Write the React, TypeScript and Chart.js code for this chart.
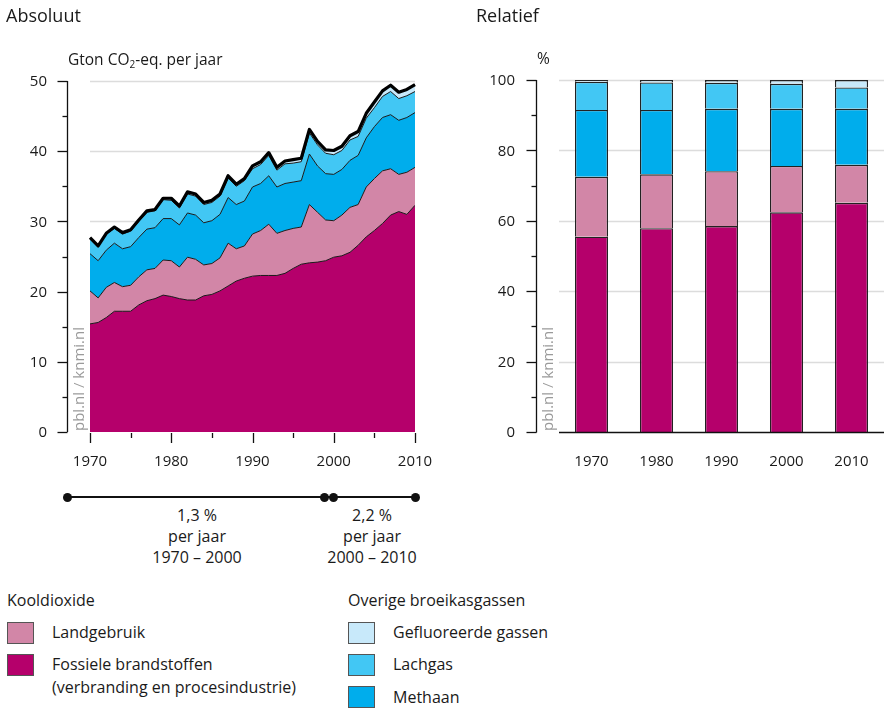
import React, { useEffect, useRef } from "react";
import { Chart, registerables } from "chart.js";
Chart.register(...registerables);

const FONT = '"Open Sans", "Noto Sans", sans-serif';

// ---- Absolute (Gton CO2-eq per year) ----
const years = [
  1970, 1971, 1972, 1973, 1974, 1975, 1976, 1977, 1978, 1979,
  1980, 1981, 1982, 1983, 1984, 1985, 1986, 1987, 1988, 1989,
  1990, 1991, 1992, 1993, 1994, 1995, 1996, 1997, 1998, 1999,
  2000, 2001, 2002, 2003, 2004, 2005, 2006, 2007, 2008, 2009, 2010,
];
const fossil = [
  15.4, 15.6, 16.3, 17.2, 17.2, 17.2, 18.1, 18.7, 19.0, 19.5,
  19.3, 19.0, 18.8, 18.8, 19.4, 19.6, 20.1, 20.8, 21.5, 21.9,
  22.2, 22.3, 22.3, 22.3, 22.6, 23.3, 23.9, 24.1, 24.2, 24.4,
  24.9, 25.1, 25.6, 26.6, 27.8, 28.7, 29.7, 30.9, 31.4, 31.0, 32.3,
];
const landUse = [
  4.7, 3.5, 4.3, 4.1, 3.5, 3.7, 4.0, 4.4, 4.3, 5.0,
  5.1, 4.5, 6.1, 5.8, 4.4, 4.4, 4.7, 6.1, 4.6, 4.6,
  6.0, 6.4, 7.3, 6.0, 6.1, 5.7, 5.3, 8.3, 7.1, 5.8,
  5.2, 5.8, 6.4, 5.8, 7.1, 7.4, 7.5, 6.6, 5.3, 6.0, 5.4,
];
const methane = [
  5.3, 5.3, 5.3, 5.6, 5.4, 5.5, 5.6, 5.8, 5.8, 5.9,
  6.0, 6.0, 6.3, 6.3, 6.0, 6.1, 6.2, 6.5, 6.3, 6.4,
  6.7, 6.7, 6.9, 6.6, 6.7, 6.6, 6.6, 7.2, 6.6, 6.6,
  6.6, 6.5, 6.7, 7.0, 7.0, 7.4, 7.6, 7.7, 7.7, 7.8, 7.8,
];
const nitrousOxide = [
  2.2, 2.0, 2.3, 2.1, 2.1, 2.2, 2.3, 2.4, 2.4, 2.7,
  2.6, 2.4, 2.7, 2.7, 2.6, 2.6, 2.6, 2.8, 2.6, 2.9,
  2.6, 2.7, 2.9, 2.4, 2.8, 2.7, 2.7, 3.0, 3.0, 2.9,
  2.8, 2.7, 2.9, 2.7, 2.8, 2.7, 3.0, 3.3, 3.1, 3.1, 3.0,
];
const fluorinated = [
  0.1, 0.1, 0.1, 0.2, 0.2, 0.2, 0.2, 0.2, 0.2, 0.2,
  0.3, 0.3, 0.3, 0.3, 0.3, 0.3, 0.3, 0.3, 0.3, 0.3,
  0.4, 0.4, 0.4, 0.4, 0.4, 0.5, 0.5, 0.5, 0.5, 0.5,
  0.6, 0.6, 0.6, 0.7, 0.7, 0.8, 0.8, 0.9, 0.9, 0.9, 1.0,
];
const absYTicks = [0, 10, 20, 30, 40, 50];
const absXTicks = [1970, 1980, 1990, 2000, 2010];

// ---- Relative (%) ----
const barYears = ["1970", "1980", "1990", "2000", "2010"];
const relFossil = [55.5, 57.9, 58.5, 62.4, 65.1];
const relLandUse = [17.0, 15.3, 15.6, 13.2, 10.8];
const relMethane = [19.0, 18.3, 17.7, 16.2, 15.9];
const relNitrousOxide = [8.0, 7.8, 7.4, 7.1, 6.1];
const relFluorinated = [0.5, 0.7, 0.8, 1.1, 2.1];
const relYTicks = [0, 20, 40, 60, 80, 100];

const C_FOSSIL = "#b5006b";
const C_LAND = "#d286a7";
const C_METHANE = "#00adec";
const C_N2O = "#42c7f4";
const C_FGAS = "#c8e9fa";

function pts(vals: number[]) {
  return years.map((y, i) => ({ x: y, y: vals[i] }));
}

function drawWatermark(ctx: CanvasRenderingContext2D, x: number, bottom: number) {
  ctx.save();
  ctx.translate(x, bottom - 1);
  ctx.rotate(-Math.PI / 2);
  ctx.fillStyle = "#9a9a9a";
  ctx.font = `15px ${FONT}`;
  ctx.textAlign = "left";
  ctx.textBaseline = "middle";
  ctx.fillText("pbl.nl / knmi.nl", 0, 0);
  ctx.restore();
}

function AbsChart() {
  const ref = useRef<HTMLCanvasElement>(null);
  useEffect(() => {
    const axisPlugin = {
      id: "absAxes",
      beforeDatasetsDraw(chart: any) {
        const { ctx, chartArea, scales } = chart;
        ctx.save();
        ctx.strokeStyle = "#dcdcdc";
        ctx.lineWidth = 1.5;
        absYTicks.forEach((v) => {
          if (v === 0) return;
          const y = Math.round(scales.y.getPixelForValue(v)) + 0.5;
          ctx.beginPath();
          ctx.moveTo(chartArea.left, y);
          ctx.lineTo(chartArea.right, y);
          ctx.stroke();
        });
        ctx.restore();
      },
      afterDatasetsDraw(chart: any) {
        const { ctx } = chart;
        const meta = chart.getDatasetMeta(4);
        ctx.save();
        ctx.strokeStyle = "#000";
        ctx.lineWidth = 3.2;
        ctx.lineJoin = "round";
        ctx.beginPath();
        meta.data.forEach((p: any, i: number) => {
          if (i === 0) ctx.moveTo(p.x, p.y);
          else ctx.lineTo(p.x, p.y);
        });
        ctx.stroke();
        ctx.restore();
      },
      afterDraw(chart: any) {
        const { ctx, chartArea, scales } = chart;
        const ax = 67.5;
        ctx.save();
        ctx.strokeStyle = "#111";
        ctx.lineWidth = 1.3;
        const y0 = scales.y.getPixelForValue(0);
        const y50 = scales.y.getPixelForValue(50);
        ctx.beginPath();
        ctx.moveTo(ax, y0);
        ctx.lineTo(ax, y50);
        ctx.stroke();
        for (let v = 0; v <= 50; v += 5) {
          const y = Math.round(scales.y.getPixelForValue(v)) + 0.5;
          const major = v % 10 === 0;
          ctx.beginPath();
          ctx.moveTo(ax - (major ? 10 : 5), y);
          ctx.lineTo(ax, y);
          ctx.stroke();
        }
        ctx.fillStyle = "#1a1a1a";
        ctx.font = `15px ${FONT}`;
        ctx.textAlign = "right";
        ctx.textBaseline = "middle";
        absYTicks.forEach((v) => {
          ctx.fillText(String(v), 47, scales.y.getPixelForValue(v) + 1);
        });
        for (let yr = 1970; yr <= 2010; yr += 5) {
          const x = Math.round(scales.x.getPixelForValue(yr)) + 0.5;
          const major = yr % 10 === 0;
          ctx.beginPath();
          ctx.moveTo(x, chartArea.bottom + 1);
          ctx.lineTo(x, chartArea.bottom + (major ? 11 : 6));
          ctx.stroke();
        }
        ctx.textAlign = "center";
        absXTicks.forEach((yr) => {
          ctx.fillText(String(yr), scales.x.getPixelForValue(yr), 462);
        });
        drawWatermark(ctx, 80, chartArea.bottom);
        ctx.restore();
      },
    };
    const border = "#1a1a1a";
    const chart = new Chart(ref.current as HTMLCanvasElement, {
      type: "line",
      data: {
        datasets: [
          { label: "Fossiele brandstoffen", data: pts(fossil), fill: "origin", backgroundColor: C_FOSSIL, borderColor: border, borderWidth: 1, pointRadius: 0, tension: 0 },
          { label: "Landgebruik", data: pts(landUse), fill: "-1", backgroundColor: C_LAND, borderColor: border, borderWidth: 1, pointRadius: 0, tension: 0 },
          { label: "Methaan", data: pts(methane), fill: "-1", backgroundColor: C_METHANE, borderColor: border, borderWidth: 1, pointRadius: 0, tension: 0 },
          { label: "Lachgas", data: pts(nitrousOxide), fill: "-1", backgroundColor: C_N2O, borderColor: border, borderWidth: 1, pointRadius: 0, tension: 0 },
          { label: "Gefluoreerde gassen", data: pts(fluorinated), fill: "-1", backgroundColor: C_FGAS, borderColor: border, borderWidth: 1, pointRadius: 0, tension: 0 },
        ],
      } as any,
      options: {
        animation: false,
        responsive: false,
        devicePixelRatio: 1,
        layout: { padding: { left: 90, right: 25, top: 81, bottom: 48 } },
        plugins: { legend: { display: false }, tooltip: { enabled: false } },
        scales: {
          x: { type: "linear", min: 1970, max: 2010, display: false },
          y: { stacked: true, min: 0, max: 50, display: false },
        },
      } as any,
      plugins: [axisPlugin],
    });
    return () => chart.destroy();
  }, []);
  return <canvas ref={ref} width={440} height={480} style={{ position: "absolute", left: 0, top: 0, width: 440, height: 480 }} />;
}

function RelChart() {
  const ref = useRef<HTMLCanvasElement>(null);
  useEffect(() => {
    const axisPlugin = {
      id: "relAxes",
      beforeDatasetsDraw(chart: any) {
        const { ctx, chartArea, scales } = chart;
        ctx.save();
        ctx.strokeStyle = "#dcdcdc";
        ctx.lineWidth = 1.5;
        relYTicks.forEach((v) => {
          if (v === 0) return;
          const y = Math.round(scales.y.getPixelForValue(v)) + 0.5;
          ctx.beginPath();
          ctx.moveTo(chartArea.left, y);
          ctx.lineTo(chartArea.right, y);
          ctx.stroke();
        });
        ctx.restore();
      },
      afterDraw(chart: any) {
        const { ctx, chartArea, scales } = chart;
        const ax = 96.5;
        ctx.save();
        ctx.strokeStyle = "#111";
        ctx.lineWidth = 1.3;
        const y0 = Math.round(scales.y.getPixelForValue(0)) + 0.5;
        ctx.beginPath();
        ctx.moveTo(chartArea.left, y0);
        ctx.lineTo(chartArea.right, y0);
        ctx.stroke();
        ctx.beginPath();
        ctx.moveTo(ax, y0);
        ctx.lineTo(ax, scales.y.getPixelForValue(100));
        ctx.stroke();
        for (let v = 0; v <= 100; v += 10) {
          const y = Math.round(scales.y.getPixelForValue(v)) + 0.5;
          const major = v % 20 === 0;
          ctx.beginPath();
          ctx.moveTo(ax - (major ? 10 : 5), y);
          ctx.lineTo(ax, y);
          ctx.stroke();
        }
        ctx.fillStyle = "#1a1a1a";
        ctx.font = `15px ${FONT}`;
        ctx.textAlign = "right";
        ctx.textBaseline = "middle";
        relYTicks.forEach((v) => {
          ctx.fillText(String(v), 75, scales.y.getPixelForValue(v) + 1);
        });
        ctx.textAlign = "center";
        barYears.forEach((lab, i) => {
          ctx.fillText(lab, scales.x.getPixelForValue(i), 462);
        });
        drawWatermark(ctx, 109, chartArea.bottom);
        ctx.restore();
      },
    };
    const common = { borderColor: "#222", borderWidth: 1.4, barPercentage: 0.51, categoryPercentage: 1 };
    const chart = new Chart(ref.current as HTMLCanvasElement, {
      type: "bar",
      data: {
        labels: barYears,
        datasets: [
          { label: "Fossiele brandstoffen", data: relFossil, backgroundColor: C_FOSSIL, ...common },
          { label: "Landgebruik", data: relLandUse, backgroundColor: C_LAND, ...common },
          { label: "Methaan", data: relMethane, backgroundColor: C_METHANE, ...common },
          { label: "Lachgas", data: relNitrousOxide, backgroundColor: C_N2O, ...common },
          { label: "Gefluoreerde gassen", data: relFluorinated, backgroundColor: C_FGAS, ...common },
        ],
      } as any,
      options: {
        animation: false,
        responsive: false,
        devicePixelRatio: 1,
        layout: { padding: { left: 119, right: 2, top: 80, bottom: 48 } },
        plugins: { legend: { display: false }, tooltip: { enabled: false } },
        scales: {
          x: { stacked: true, display: false },
          y: { stacked: true, min: 0, max: 100, display: false },
        },
      } as any,
      plugins: [axisPlugin],
    });
    return () => chart.destroy();
  }, []);
  return <canvas ref={ref} width={446} height={480} style={{ position: "absolute", left: 440, top: 0, width: 446, height: 480 }} />;
}

function Txt(props: { x: number; y: number; size?: number; center?: boolean; children: React.ReactNode }) {
  const { x, y, size = 16, center, children } = props;
  return (
    <div
      style={{
        position: "absolute",
        left: x,
        top: y - 11,
        height: 22,
        lineHeight: "22px",
        fontSize: size,
        fontFamily: FONT,
        color: "#1a1a1a",
        whiteSpace: "nowrap",
        transform: center ? "translateX(-50%)" : undefined,
      }}
    >
      {children}
    </div>
  );
}

function Box(props: { x: number; y: number; color: string }) {
  return (
    <div
      style={{
        position: "absolute",
        left: props.x,
        top: props.y,
        width: 27,
        height: 22,
        background: props.color,
        border: "1px solid #555",
        boxSizing: "border-box",
      }}
    />
  );
}

function Dot(props: { x: number; y: number }) {
  return (
    <div
      style={{
        position: "absolute",
        left: props.x - 4.5,
        top: props.y - 4.5,
        width: 9,
        height: 9,
        borderRadius: "50%",
        background: "#111",
      }}
    />
  );
}

export default function App() {
  return (
    <div style={{ position: "fixed", left: 0, top: 0, width: 886, height: 708, background: "#fff", overflow: "hidden" }}>
      <AbsChart />
      <RelChart />
      <Txt x={6} y={15} size={18}>Absoluut</Txt>
      <Txt x={476} y={15} size={18}>Relatief</Txt>
      <Txt x={68} y={59} size={15.5}>
        Gton CO<sub style={{ fontSize: 10, verticalAlign: "-3px", lineHeight: 0 }}>2</sub>-eq. per jaar
      </Txt>
      <Txt x={537} y={58} size={15.5}>%</Txt>

      <div style={{ position: "absolute", left: 67, top: 496, width: 348, height: 1.5, background: "#111" }} />
      <Dot x={67} y={497} />
      <Dot x={324} y={497} />
      <Dot x={333} y={497} />
      <Dot x={415} y={497} />
      <Txt x={197} y={515} center>1,3 %</Txt>
      <Txt x={197} y={536} center>per jaar</Txt>
      <Txt x={197} y={557} center>1970 – 2000</Txt>
      <Txt x={372} y={515} center>2,2 %</Txt>
      <Txt x={372} y={536} center>per jaar</Txt>
      <Txt x={372} y={557} center>2000 – 2010</Txt>

      <Txt x={7} y={600} size={16}>Kooldioxide</Txt>
      <Box x={7} y={622} color={C_LAND} />
      <Txt x={52} y={632} size={16}>Landgebruik</Txt>
      <Box x={7} y={654} color={C_FOSSIL} />
      <Txt x={52} y={664} size={16}>Fossiele brandstoffen</Txt>
      <Txt x={52} y={687} size={16}>(verbranding en procesindustrie)</Txt>

      <Txt x={348} y={600} size={16}>Overige broeikasgassen</Txt>
      <Box x={348} y={622} color={C_FGAS} />
      <Txt x={393} y={632} size={16}>Gefluoreerde gassen</Txt>
      <Box x={348} y={654} color={C_N2O} />
      <Txt x={393} y={664} size={16}>Lachgas</Txt>
      <Box x={348} y={686} color={C_METHANE} />
      <Txt x={393} y={697} size={16}>Methaan</Txt>
    </div>
  );
}
